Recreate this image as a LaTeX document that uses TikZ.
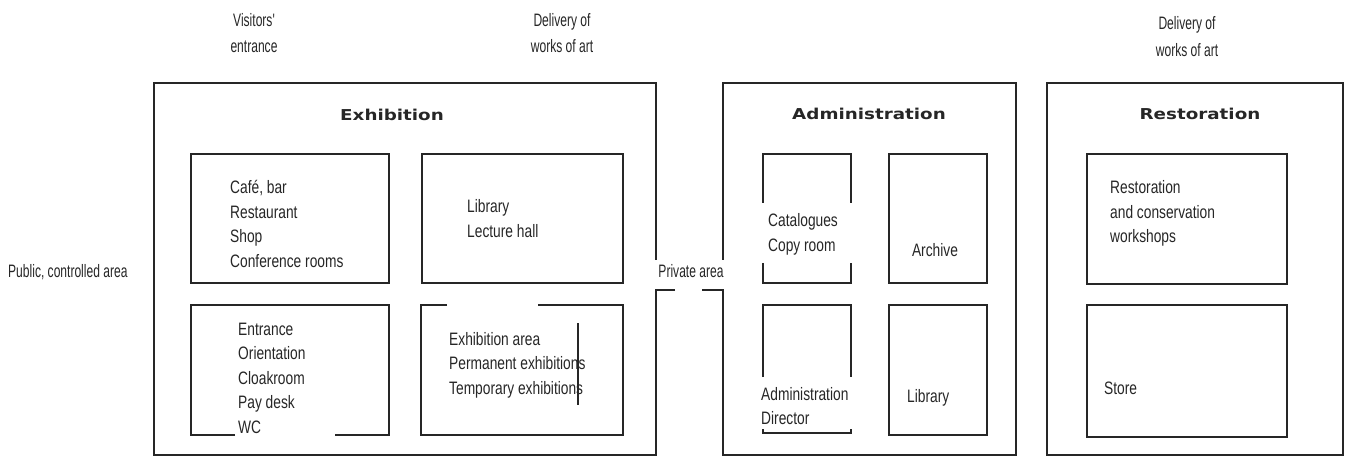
\documentclass[tikz,border=0pt]{standalone}
\usepackage{fontspec}
\setmainfont{Liberation Sans}[FakeStretch=0.765]
\newfontfamily\narrowfont{Liberation Sans}[FakeStretch=0.67]
\newfontfamily\titlefont{DejaVu Sans}[FakeStretch=1.22]
\begin{document}
\begin{tikzpicture}[x=1pt,y=-1pt,
  wall/.style={draw=black!85,line width=1.1pt},
  txt/.style={anchor=base west,inner sep=0pt,font=\fontsize{18}{20}\selectfont,text=black!85},
  ctxt/.style={anchor=base,inner sep=0pt,font=\fontsize{18}{20}\selectfont,text=black!85},
  ntxt/.style={inner sep=0pt,font=\narrowfont\fontsize{18}{20}\selectfont,text=black!85},
  ttl/.style={anchor=base,inner sep=0pt,font=\titlefont\bfseries\fontsize{15}{18}\selectfont,text=black!85}]
\useasboundingbox (0,0) rectangle (1353,457);
% outer zones
\draw[wall] (675,290) -- (656,290) -- (656,455) -- (154,455) -- (154,83) -- (656,83) -- (656,260);
\draw[wall] (702,290) -- (723,290) -- (723,455) -- (1016,455) -- (1016,83) -- (723,83) -- (723,260);
\draw[wall] (1047,83) rectangle (1343,455);
% exhibition rooms
\draw[wall] (191,154) rectangle (389,283);
\draw[wall] (422,154) rectangle (623,283);
\draw[wall] (235,435) -- (191,435) -- (191,305) -- (389,305) -- (389,435) -- (335,435);
\draw[wall] (447,305) -- (421,305) -- (421,435) -- (623,435) -- (623,305) -- (538,305);
\draw[wall] (578,323) -- (578,405);
% administration rooms
\draw[wall] (763,203) -- (763,154) -- (851,154) -- (851,203);
\draw[wall] (763,263) -- (763,283) -- (851,283) -- (851,263);
\draw[wall] (889,154) rectangle (987,283);
\draw[wall] (763,377) -- (763,305) -- (851,305) -- (851,377);
\draw[wall] (763,429) -- (763,433) -- (851,433) -- (851,429);
\draw[wall] (889,305) rectangle (987,435);
% restoration rooms
\draw[wall] (1087,154) rectangle (1287,284);
\draw[wall] (1087,305) rectangle (1287,437);
% titles
\node[ttl] (tex) at (392,121) {Exhibition};
\node[ttl] (tad) at (869,120) {Administration};
\node[ttl] (tre) at (1200,120) {Restoration};
% top labels
\node[ntxt,anchor=base] (vis1) at (254,27) {Visitors'};
\node[ntxt,anchor=base] (vis2) at (254,53) {entrance};
\node[ntxt,anchor=base] (del1) at (562,27) {Delivery of};
\node[ntxt,anchor=base] (del2) at (562,53) {works of art};
\node[ntxt,anchor=base] (dlr1) at (1187,30) {Delivery of};
\node[ntxt,anchor=base] (dlr2) at (1187,57) {works of art};
\node[ntxt,anchor=base west] (pub) at (8,278) {Public, controlled area};
\node[ntxt,anchor=base] (priv) at (691,278) {Private area};
% exhibition texts
\node[txt] (e1) at (230,194) {Café, bar};
\node[txt] (e2) at (230,218.5) {Restaurant};
\node[txt] (e3) at (230,243) {Shop};
\node[txt] (e4) at (230,267.5) {Conference rooms};
\node[txt] (f1) at (467,213) {Library};
\node[txt] (f2) at (467,237.5) {Lecture hall};
\node[txt] (g1) at (238,335) {Entrance};
\node[txt] (g2) at (238,359.5) {Orientation};
\node[txt] (g3) at (238,384) {Cloakroom};
\node[txt] (g4) at (238,408.5) {Pay desk};
\node[txt] (g5) at (238,433) {WC};
\node[txt] (h1) at (449,345) {Exhibition area};
\node[txt] (h2) at (449,369.5) {Permanent exhibitions};
\node[txt] (h3) at (449,394) {Temporary exhibitions};
% administration texts
\node[txt] (a1) at (768,227) {Catalogues};
\node[txt] (a2) at (768,251.5) {Copy room};
\node[ctxt] (a3) at (935,257) {Archive};
\node[txt] (a4) at (761,400) {Administration};
\node[txt] (a5) at (761,424.5) {Director};
\node[txt] (a6) at (907,402) {Library};
% restoration texts
\node[txt] (r1) at (1110,194) {Restoration};
\node[txt] (r2) at (1110,218.5) {and conservation};
\node[txt] (r3) at (1110,243) {workshops};
\node[txt] (r4) at (1104,394) {Store};
\end{tikzpicture}
\end{document}
